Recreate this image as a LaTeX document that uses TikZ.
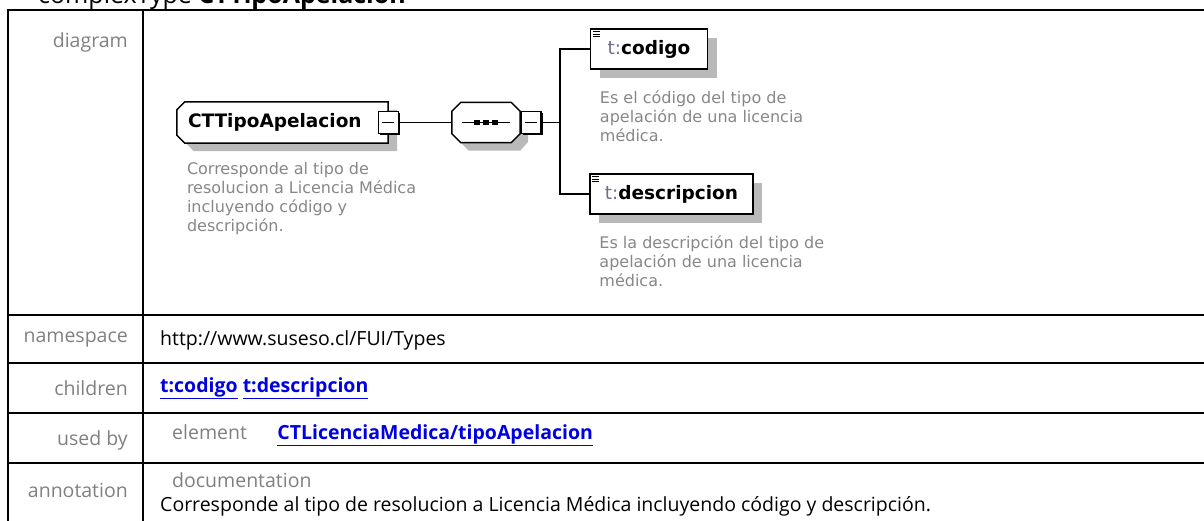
\documentclass[tikz,border=0pt]{standalone}
\usepackage{fontspec}
\setmainfont{Open Sans}
\newfontfamily\diafont{DejaVu Sans}
\usetikzlibrary{positioning,shadows,backgrounds}

\definecolor{shadowgray}{RGB}{185,185,185}
\definecolor{labelgray}{RGB}{128,128,128}
\definecolor{notegray}{RGB}{135,135,135}
\definecolor{prefixgray}{RGB}{110,110,140}
\definecolor{linkblue}{RGB}{0,0,225}

\begin{document}
\begin{tikzpicture}[x=1pt, y=-1pt,
    tableline/.style={line width=2pt},
    rowlabel/.style={anchor=east, inner sep=0pt, text=labelgray, font=\fontsize{19.5}{23}\selectfont},
    rowtext/.style={anchor=west, inner sep=0pt, font=\fontsize{19.5}{23}\selectfont},
    linktext/.style={rowtext, text=linkblue, font=\fontsize{19.5}{23}\selectfont\bfseries},
    boxline/.style={line width=1.5pt},
    boxname/.style={font=\diafont\fontsize{18.5}{22}\selectfont\bfseries},
    elembox/.style={draw, boxline, fill=white, minimum height=40pt, inner sep=0pt,
      drop shadow={shadow xshift=9pt, shadow yshift=-9pt, fill=shadowgray, opacity=1}},
    minusbox/.style={draw, line width=1.3pt, fill=white, minimum width=20pt, minimum height=22pt, inner sep=0pt,
      drop shadow={shadow xshift=2pt, shadow yshift=-2pt, fill=black, opacity=1}},
    descnote/.style={anchor=north west, inner sep=0pt, align=left, text=notegray,
      font=\diafont\fontsize{16}{19}\selectfont}
  ]
        \useasboundingbox (0,0) rectangle (1204,521);
        \clip (0,0) rectangle (1204,521);

        % Title, cut off by the top edge
        \node[anchor=base west, inner sep=0pt, font=\fontsize{25}{30}\selectfont] (title) at (38,4) {complexType \textbf{CTTipoApelacion}};

        % Table grid
        \draw[tableline] (1204,10) -- (7.5,10) -- (7.5,521);
        \draw[tableline] (143,10) -- (143,521);
        \foreach \rowy in {315,363,413,463}
            \draw[tableline] (7.5,\rowy) -- (1204,\rowy);

        % Row labels
        \node[rowlabel] (lbldiagram) at (128,42) {diagram};
        \node[rowlabel] (lblns) at (128,340) {namespace};
        \node[rowlabel] (lblchildren) at (128,388) {children};
        \node[rowlabel] (lblusedby) at (128,440) {used by};
        \node[rowlabel] (lblannot) at (128,490) {annotation};

        % Row contents
        \node[rowtext] (nsval) at (160,340) {http://www.suseso.cl/FUI/Types};
        \node[linktext] (childlinks) at (160,388) {\underline{t:codigo} \underline{t:descripcion}};
        \node[rowtext, text=labelgray] (usedkind) at (172,432) {element};
        \node[linktext, base right=30pt of usedkind] (usedlink) {\underline{CTLicenciaMedica/tipoApelacion}};
        \node[rowtext, text=labelgray] (docword) at (172,480) {documentation};
        \node[rowtext] (doctext) at (160,506) {Corresponde al tipo de resolucion a Licencia Médica incluyendo código y descripción.};

        % Diagram: complex type and sequence
        \node[boxname, minimum height=41pt, text width=189pt, inner xsep=11pt, inner ysep=0pt, align=left] (main) at (282.5,122.5) {CTTipoApelacion};
        \node[minimum width=68pt, minimum height=40pt, inner sep=0pt] (seq) at (486,122.5) {};
        \begin{scope}[on background layer]
            \fill[shadowgray] ([shift={(17,8)}]main.north west) -- ([shift={(9,8)}]main.north east) -- ([shift={(9,8)}]main.south east)
                -- ([shift={(17,8)}]main.south west) -- ([shift={(9,0)}]main.south west) -- ([shift={(9,16)}]main.north west) -- cycle;
            \filldraw[boxline, fill=white] ([shift={(8,0)}]main.north west) -- (main.north east) -- (main.south east)
                -- ([shift={(8,0)}]main.south west) -- ([shift={(0,-8)}]main.south west) -- ([shift={(0,8)}]main.north west) -- cycle;
            \fill[shadowgray] ([shift={(17,8)}]seq.north west) -- ([shift={(0,8)}]seq.north east) -- ([shift={(8,17)}]seq.north east)
                -- ([shift={(8,-1)}]seq.south east) -- ([shift={(0,8)}]seq.south east) -- ([shift={(17,8)}]seq.south west)
                -- ([shift={(8,-1)}]seq.south west) -- ([shift={(8,17)}]seq.north west) -- cycle;
            \filldraw[boxline, fill=white] ([shift={(9,0)}]seq.north west) -- ([shift={(-9,0)}]seq.north east) -- ([shift={(0,9)}]seq.north east)
                -- ([shift={(0,-9)}]seq.south east) -- ([shift={(-9,0)}]seq.south east) -- ([shift={(9,0)}]seq.south west)
                -- ([shift={(0,-9)}]seq.south west) -- ([shift={(0,9)}]seq.north west) -- cycle;
        \end{scope}
        \node[minusbox] (mainminus) at (main.east) {};
        \node[minusbox, anchor=west] (seqminus) at (seq.east) {};
        \foreach \mbox in {mainminus, seqminus}
            \draw[line width=1.3pt] ([xshift=-6pt]\mbox.center) -- ([xshift=6pt]\mbox.center);

        % Sequence symbol
        \draw[line width=1.3pt] ([xshift=-24pt]seq.center) -- ([xshift=24pt]seq.center);
        \foreach \dx in {-9,0,9}
            \fill ([shift={(\dx-3,-2.5)}]seq.center) rectangle ++(6,5);

        % Child elements
        \node[elembox, boxname, minimum width=117pt] (codigo) at (649,49) {\textcolor{prefixgray}{\mdseries t:}codigo};
        \node[elembox, boxname, minimum width=163pt] (descr) at (671.5,194) {\textcolor{prefixgray}{\mdseries t:}descripcion};
        \foreach \elem in {codigo, descr}
            \foreach \k in {0,1,2}
                \draw[line width=0.9pt] ([shift={(3,3.5+2.5*\k)}]\elem.north west) -- ++(7,0);

        % Connectors
        \coordinate (bus) at (560,122.5);
        \draw[boxline] (mainminus.east) -- (seq.west);
        \draw[boxline] (seqminus.east) -- (bus);
        \draw[boxline] (codigo.west) -| (bus) |- (descr.west);

        % Descriptions
        \node[descnote] (maindesc) at ([shift={(10,19)}]main.south west) {Corresponde al tipo de\\resolucion a Licencia Médica\\incluyendo código y\\descripción.};
        \node[descnote] (codigodesc) at ([shift={(10,21)}]codigo.south west) {Es el código del tipo de\\apelación de una licencia\\médica.};
        \node[descnote] (descrdesc) at ([shift={(10,21)}]descr.south west) {Es la descripción del tipo de\\apelación de una licencia\\médica.};
    \end{tikzpicture}
\end{document}
